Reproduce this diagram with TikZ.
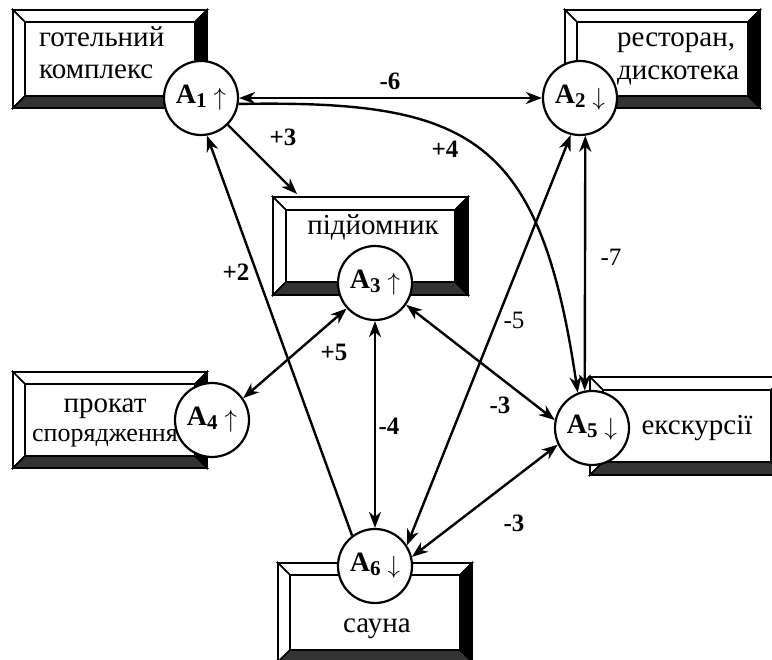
\documentclass[tikz,border=0pt]{standalone}
\usepackage{fontspec}
\setmainfont{Liberation Serif}
\usetikzlibrary{arrows.meta}
\definecolor{darkbev}{HTML}{333333}
\newcommand\bevbox[5]{%
  \filldraw[boxline,fill=white] (#1,#2) rectangle (#3,#4);
  \filldraw[boxline,fill=white] (#1,#2) -- (#3,#2) -- ({#3-#5},{#2+#5}) -- ({#1+#5},{#2+#5}) -- cycle;
  \filldraw[boxline,fill=white] (#1,#2) -- ({#1+#5},{#2+#5}) -- ({#1+#5},{#4-#5}) -- (#1,#4) -- cycle;
  \filldraw[boxline,fill=black] (#3,#2) -- (#3,#4) -- ({#3-#5},{#4-#5}) -- ({#3-#5},{#2+#5}) -- cycle;
  \filldraw[boxline,fill=darkbev] (#1,#4) -- (#3,#4) -- ({#3-#5},{#4-#5}) -- ({#1+#5},{#4-#5}) -- cycle;
  \filldraw[boxline,fill=white] ({#1+#5},{#2+#5}) rectangle ({#3-#5},{#4-#5});
}
\newcommand\alab[2]{\textbf{A}\raisebox{-4pt}{\fontsize{21}{21}\selectfont\textbf{#1}}\hspace{7pt}\raisebox{-2pt}{\fontsize{32}{32}\selectfont$#2$}}
\tikzset{
  boxline/.style={draw=black,line width=1.6pt},
  btxt/.style={font=\fontsize{29}{31}\selectfont,inner sep=0pt},
  circ/.style={circle,draw=black,fill=white,line width=2.2pt,minimum size=74pt,inner sep=0pt,font=\fontsize{28}{30}\selectfont},
  conn/.style={line width=2.4pt},
  both/.style={conn,{Stealth[length=16pt,width=12pt,inset=5pt]}-{Stealth[length=16pt,width=12pt,inset=5pt]}},
  one/.style={conn,-{Stealth[length=16pt,width=12pt,inset=5pt]}},
  wlbl/.style={font=\fontsize{25}{27}\selectfont,inner sep=1pt},
  blbl/.style={font=\fontsize{25}{27}\selectfont\bfseries,inner sep=1pt}
}
\begin{document}
\begin{tikzpicture}[x=1pt,y=-1pt]
\useasboundingbox (0,0) rectangle (772,660);
\clip (0,0) rectangle (772,660);
% boxes
\bevbox{13}{10}{207}{108}{12}
\bevbox{565}{10}{760}{108}{12}
\bevbox{273}{197}{468}{295}{13}
\bevbox{13}{372}{207}{468}{12}
\bevbox{590}{377}{784}{475}{13}
\bevbox{278}{563}{472}{662}{12}
% box texts
\node[btxt,anchor=base west] (t1a) at (39,47) {готельний};
\node[btxt,anchor=base west] (t1b) at (39,79) {комплекс};
\node[btxt,anchor=base west] (t2a) at (617,47) {ресторан,};
\node[btxt,anchor=base west] (t2b) at (617,80) {дискотека};
\node[btxt,anchor=base] (t3) at (373,235) {підйомник};
\node[btxt,anchor=base] (t4a) at (105,413) {прокат};
\node[btxt,anchor=base west,font=\fontsize{26}{28}\selectfont] (t4b) at (32,442) {спорядження};
\node[btxt,anchor=base] (t5) at (697,435) {екскурсії};
\node[btxt,anchor=base] (t6) at (377,632) {сауна};
% circles
\node[circ] (A1) at (201,98) {\alab{1}{\uparrow}};
\node[circ] (A2) at (580,98) {\alab{2}{\downarrow}};
\node[circ] (A3) at (375,283) {\alab{3}{\uparrow}};
\node[circ] (A4) at (212,420) {\alab{4}{\uparrow}};
\node[circ] (A5) at (592,428) {\alab{5}{\downarrow}};
\node[circ] (A6) at (375,566) {\alab{6}{\downarrow}};
\coordinate (T3) at (297,194);
% connectors
\draw[both] (A1.east) -- (A2.west);
\draw[one] (A1.-9) .. controls (470,100) and (540,135) .. (A5.112);
\draw[one] (A1.-45) -- (T3);
\draw[one] (A6.127) -- (A1.-81);
\draw[both] (A3.222) -- (A4.35);
\draw[both] (A3.south) -- (A6.north);
\draw[both] (A3.-35) -- (A5.168);
\draw[both] (A2.-104) -- (A6.33);
\draw[both] (A2.-82) -- (A5.101);
\draw[both] (A6.14) -- (A5.206);
% labels
\node[blbl] (l6) at (390,81) {-6};
\node[blbl] (l4) at (445,149) {+4};
\node[blbl] (l3) at (283,137) {+3};
\node[blbl] (l2) at (236,272) {+2};
\node[blbl] (l5) at (334,352) {+5};
\node[blbl] (l4b) at (389,426) {-4};
\node[blbl] (l3b) at (500,405) {-3};
\node[wlbl] (l5b) at (514,320) {-5};
\node[wlbl] (l7) at (611,257) {-7};
\node[blbl] (l3c) at (514,523) {-3};
\end{tikzpicture}
\end{document}
